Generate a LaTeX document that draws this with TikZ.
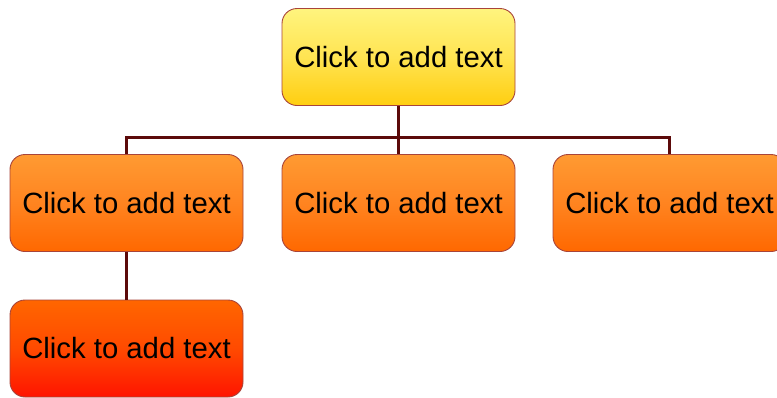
\documentclass[tikz,border=0pt]{standalone}
\usepackage{fontspec}
\setmainfont{Liberation Sans}
\definecolor{edgecol}{HTML}{5C0A0A}
\definecolor{boxline}{HTML}{A8443A}
\definecolor{ytop}{HTML}{FFF47E}
\definecolor{ymid}{HTML}{FFE452}
\definecolor{ybot}{HTML}{FFCE10}
\definecolor{otop}{HTML}{FF9A32}
\definecolor{omid}{HTML}{FF8420}
\definecolor{obot}{HTML}{FF6800}
\definecolor{rtop}{HTML}{FF6600}
\definecolor{rmid}{HTML}{FF4A00}
\definecolor{rbot}{HTML}{FF1400}
\begin{document}
\begin{tikzpicture}[x=1pt,y=-1pt,
  orgbox/.style={draw=boxline, line width=0.9pt, rounded corners=15pt,
    minimum width=233pt, minimum height=97pt, inner sep=0pt,
    font=\fontsize{29.3}{32}\selectfont, text=black},
  yellowbox/.style={orgbox, top color=ytop, bottom color=ybot, middle color=ymid},
  orangebox/.style={orgbox, top color=otop, bottom color=obot, middle color=omid},
  redbox/.style={orgbox, top color=rtop, bottom color=rbot, middle color=rmid},
  link/.style={draw=edgecol, line width=3pt}]
\useasboundingbox (0,0) rectangle (777,397);
\coordinate (bar) at (0,137);
\node[yellowbox] (top) at (398.5,57) {Click to add text};
\node[orangebox] (b1) at (126.5,203) {Click to add text};
\node[orangebox] (b2) at (398.5,203) {Click to add text};
\node[orangebox] (b3) at (669.5,203) {Click to add text};
\node[redbox] (c1) at (126.5,348.5) {Click to add text};
\path[link] (top.south) -- (b2.north);
\path[link] (b1.north) -- (b1.north |- bar) -- (b3.north |- bar) -- (b3.north);
\path[link] (b1.south) -- (c1.north);
\end{tikzpicture}
\end{document}
